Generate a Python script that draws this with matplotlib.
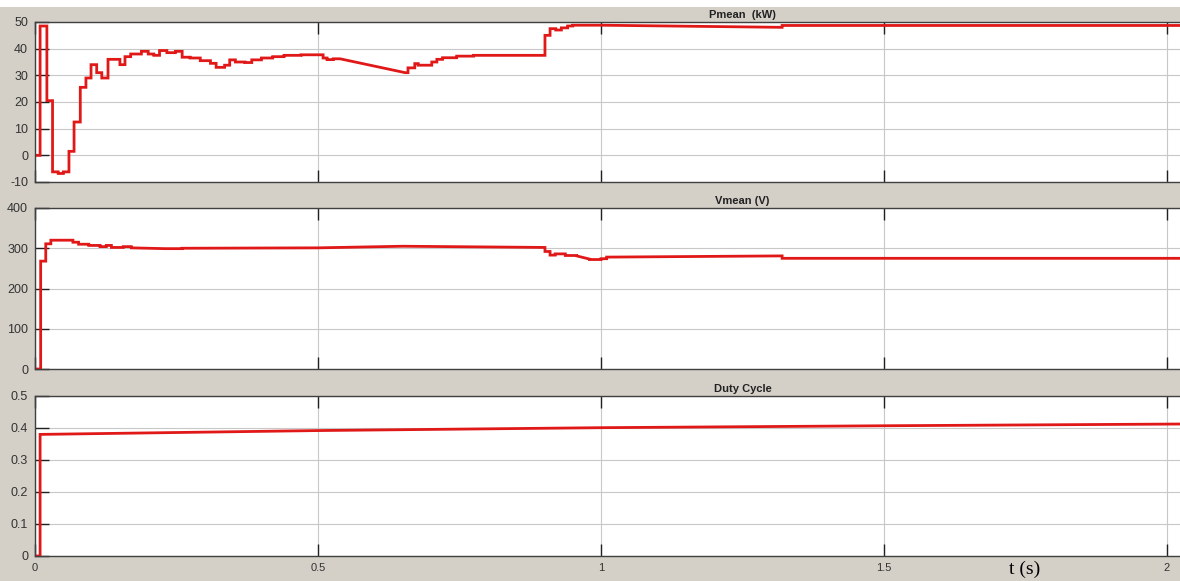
import matplotlib
matplotlib.use('Agg')
import matplotlib.pyplot as plt
from matplotlib.patches import Rectangle

# piecewise records: each level is flat, or a (start, end) tuple for a ramp
P_EDGES = [0, 0.009, 0.021, 0.031, 0.041, 0.050, 0.060, 0.069, 0.080, 0.090,
           0.099, 0.109, 0.118, 0.129, 0.150, 0.159, 0.169, 0.188, 0.200, 0.210,
           0.220, 0.233, 0.248, 0.260, 0.274, 0.292, 0.310, 0.320, 0.335, 0.344,
           0.354, 0.371, 0.383, 0.400, 0.420, 0.440, 0.470, 0.509, 0.516, 0.527,
           0.539, 0.654, 0.659, 0.671, 0.677, 0.701, 0.710, 0.720, 0.745, 0.775,
           0.901, 0.910, 0.920, 0.930, 0.941, 0.950, 1.0, 1.32, 2.03]
P_LEVELS = [0, 48.5, 20.5, -6.2, -6.8, -6.2, 1.5, 12.5, 25.5, 29,
            34, 31, 29, 36, 34, 37, 38, 39, 38, 37.5,
            39.3, 38.5, 39, 36.8, 36.5, 35.5, 34.5, 33, 33.8, 35.8,
            35, 34.8, 35.8, 36.5, 37, 37.5, 37.7, 36.5, 35.9, 36.2,
            (36.2, 31.0), 31.0, 32.8, 34.4, 33.8, 35.0, 36.0, 36.6, 37.2, 37.5,
            45.0, 47.5, 47.0, 47.8, 48.5, 48.8, (48.8, 48.0), 48.7]

V_EDGES = [0, 0.010, 0.019, 0.028, 0.067, 0.077, 0.095, 0.115, 0.126, 0.135,
           0.156, 0.170, 0.230, 0.260, 0.500, 0.650, 0.901, 0.910, 0.919, 0.937,
           0.957, 0.980, 1.0, 1.01, 1.32, 2.03]
V_LEVELS = [0, 268, 311, 320, 315, 310, 307, 304, 307, 302,
            304, (301, 299), 299, (300, 301), (301, 305), (305, 302), 292, 283, 286, 282,
            (281, 273), 272, 274, (278, 281), 275]

D_EDGES = [0, 0.009, 0.5, 1.0, 1.5, 2.03]
D_LEVELS = [0, (0.380, 0.392), (0.392, 0.401), (0.401, 0.407), (0.407, 0.4125)]

X_TICKS = [0, 0.5, 1, 1.5, 2]
X_LABELS = ['0', '0.5', '1', '1.5', '2']

BG = '#d4d0c8'
RED = '#e01818'


def trace(edges, levels):
    t, y = [], []
    for a, b, lv in zip(edges[:-1], edges[1:], levels):
        v0, v1 = lv if isinstance(lv, tuple) else (lv, lv)
        t += [a, b]
        y += [v0, v1]
    return t, y


def setup_axes(ax, title, yticks, ylabels, ylim):
    ax.set_facecolor('white')
    ax.set_xlim(0, (1180 - 35) / 566)
    ax.set_ylim(*ylim)
    ax.set_xticks(X_TICKS)
    ax.set_yticks(yticks)
    ax.set_yticklabels(ylabels)
    ax.grid(True, color='#c8c8c8', lw=0.8)
    ax.set_axisbelow(True)
    ax.tick_params(axis='x', direction='in', length=8.5, width=1, top=True,
                   color='#202020', labelsize=8, labelcolor='#333333', pad=5)
    ax.tick_params(axis='y', direction='in', length=10, width=1, right=False,
                   color='#202020', labelsize=9, labelcolor='#333333', pad=5)
    for s in ax.spines.values():
        s.set_color('#404040')
        s.set_linewidth(1)
    ax.spines['right'].set_visible(False)
    ax.annotate(title, xy=(0.618, 1), xycoords='axes fraction',
                xytext=(0, 5), textcoords='offset points', ha='center',
                va='center', fontsize=8, fontweight='bold',
                family='Liberation Sans', color='#222222')


fig = plt.figure(figsize=(11.8, 5.81), dpi=100, facecolor=BG)
fig.add_artist(Rectangle((0, 1 - 7 / 581), 1, 7 / 581, transform=fig.transFigure,
                         facecolor='white', edgecolor='none'))

W = 581
ax1 = fig.add_axes([35 / 1180, (W - 182) / W, 1145 / 1180, 160 / W])
ax2 = fig.add_axes([35 / 1180, (W - 369) / W, 1145 / 1180, 161 / W])
ax3 = fig.add_axes([35 / 1180, (W - 556) / W, 1145 / 1180, 160 / W])

setup_axes(ax1, 'Pmean  (kW)', [-10, 0, 10, 20, 30, 40, 50],
           ['-10', '0', '10', '20', '30', '40', '50'], (-10, 50))
setup_axes(ax2, 'Vmean (V)', [0, 100, 200, 300, 400],
           ['0', '100', '200', '300', '400'], (0, 400))
setup_axes(ax3, 'Duty Cycle', [0, 0.1, 0.2, 0.3, 0.4, 0.5],
           ['0', '0.1', '0.2', '0.3', '0.4', '0.5'], (0, 0.5))

for ax in (ax1, ax2):
    ax.set_xticklabels([])
ax3.set_xticklabels(X_LABELS)

for ax, edges, levels in ((ax1, P_EDGES, P_LEVELS), (ax2, V_EDGES, V_LEVELS),
                          (ax3, D_EDGES, D_LEVELS)):
    t, y = trace(edges, levels)
    ax.plot(t, y, color=RED, lw=2, solid_joinstyle='miter', clip_on=True)

for lbl in ax1.get_yticklabels() + ax2.get_yticklabels() + ax3.get_yticklabels() + ax3.get_xticklabels():
    lbl.set_family('Liberation Sans')

fig.text(1025 / 1180, 1 - 569 / 581, 't (s)', fontsize=14, family='Liberation Serif',
         ha='center', va='center', color='black')

fig.savefig('out.png', dpi=100, facecolor=BG)
